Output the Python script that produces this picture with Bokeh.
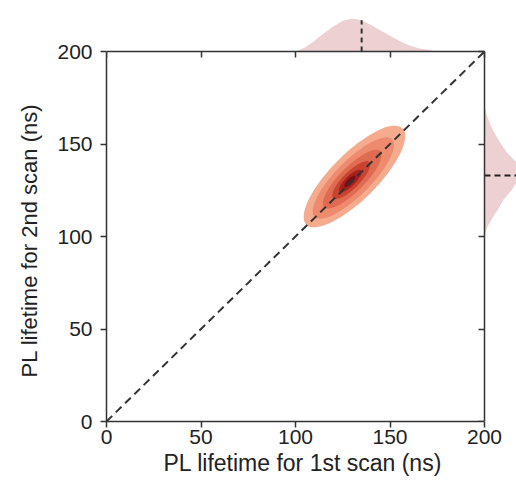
import numpy as np
from bokeh.plotting import figure
from bokeh.models import Range1d, LinearAxis, FixedTicker, Title
from bokeh.embed import file_html
from bokeh.resources import INLINE

# ---------------- data ----------------
ticks = [0, 50, 100, 150, 200]
diag = [0, 200]
x_label = "PL lifetime for 1st scan (ns)"
y_label = "PL lifetime for 2nd scan (ns)"

# 2D density contour levels (outer -> inner), approximated as ellipses along the diagonal
lvl_x = [131.2, 130.6, 130.0, 129.5, 129.0, 128.8]
lvl_y = [132.4, 131.6, 131.0, 130.5, 130.0, 129.8]
lvl_len = [72.0, 58.0, 42.0, 27.0, 16.0, 8.0]
lvl_wid = [25.0, 19.0, 13.5, 9.0, 5.5, 2.8]
lvl_colors = ["#f5ab8e", "#ee8b6e", "#e06b53", "#c9432f", "#a3201f", "#731014"]

# marginal densities (normalised, peak ~ 1)
top_x = [100, 105, 110, 115, 120, 125, 130, 135, 140, 145, 150, 155, 160, 165, 170, 175]
top_d = [0.0, 0.12, 0.32, 0.55, 0.76, 0.93, 1.0, 0.95, 0.80, 0.64, 0.48, 0.32, 0.19, 0.10, 0.05, 0.0]
right_y = [100, 105, 110, 115, 120, 125, 130, 135, 140, 145, 150, 155, 160, 165, 170, 175]
right_d = [0.0, 0.08, 0.24, 0.42, 0.58, 0.82, 1.0, 1.05, 0.98, 0.70, 0.50, 0.33, 0.19, 0.08, 0.01, 0.0]
top_mark = 135
right_mark = 133

# ---------------- layout constants ----------------
LEFT = 106
TOP = 8
FRAME_W = 410
FRAME_H = 413
X_PX = 378 / 200.0      # px per ns, x
Y_PX = 370 / 200.0      # px per ns, y
DENS_PX = 33.0          # px per density unit
TOP_GAP = 43            # px above the y=200 line
RIGHT_GAP = FRAME_W - 378

FONT = "Liberation Sans"
TXT = "#222222"
AX = "#333333"

p = figure(
    frame_width=FRAME_W, frame_height=FRAME_H,
    x_range=Range1d(0, FRAME_W / X_PX), y_range=Range1d(0, FRAME_H / Y_PX),
    output_backend="svg", toolbar_location=None,
    min_border_left=LEFT, min_border_right=0, min_border_top=TOP, min_border_bottom=0,
    background_fill_color="white", border_fill_color="white",
)
p.outline_line_color = None
p.xgrid.visible = False
p.ygrid.visible = False

p.extra_y_ranges = {"ydens": Range1d(-(FRAME_H - TOP_GAP) / DENS_PX, TOP_GAP / DENS_PX)}
p.extra_x_ranges = {"xdens": Range1d(-378 / DENS_PX, RIGHT_GAP / DENS_PX)}

# axes (bottom / left)
for ax in (p.xaxis[0], p.yaxis[0]):
    ax.ticker = FixedTicker(ticks=ticks)
    ax.bounds = (0, 200)
    ax.major_label_text_font = FONT
    ax.major_label_text_font_size = "21px"
    ax.major_label_text_color = TXT
    ax.major_tick_in = 0
    ax.major_tick_out = 6
    ax.minor_tick_line_color = None
    ax.axis_line_color = AX
    ax.axis_line_width = 1.5
    ax.major_tick_line_color = AX
    ax.major_tick_line_width = 1.5
p.xaxis[0].major_label_standoff = 2
p.yaxis[0].major_label_standoff = 8

# axis titles, placed along the 0-200 span of the axes
xt = Title(text=x_label, align="left", offset=57, standoff=2,
           text_font=FONT, text_font_size="23px", text_font_style="normal", text_color=TXT)
yt = Title(text=y_label, align="left", offset=44, standoff=26,
           text_font=FONT, text_font_size="22px", text_font_style="normal", text_color=TXT)
p.add_layout(xt, "below")
p.add_layout(yt, "left")

# top / right axes at 200, ticks pointing inward
top_ax = LinearAxis(fixed_location=200, bounds=(0, 200), ticker=FixedTicker(ticks=ticks))
right_ax = LinearAxis(fixed_location=200, bounds=(0, 200), ticker=FixedTicker(ticks=ticks))
for ax in (top_ax, right_ax):
    ax.major_label_text_font_size = "0px"
    ax.major_label_text_alpha = 0
    ax.major_tick_in = 6
    ax.major_tick_out = 0
    ax.minor_tick_line_color = None
    ax.axis_line_color = AX
    ax.axis_line_width = 1.5
    ax.major_tick_line_color = AX
    ax.major_tick_line_width = 1.5
p.add_layout(top_ax, "above")
p.add_layout(right_ax, "right")

# marginal densities
p.varea(x=top_x, y1=[0] * len(top_x), y2=top_d, y_range_name="ydens",
        fill_color="#ecd0d2", fill_alpha=1.0)
p.harea(y=right_y, x1=[0] * len(right_y), x2=right_d, x_range_name="xdens",
        fill_color="#ecd0d2", fill_alpha=1.0)
p.segment(x0=[top_mark], y0=[0], x1=[top_mark], y1=[float(np.interp(top_mark, top_x, top_d))],
          y_range_name="ydens", line_color=AX, line_width=2, line_dash="5 4")
p.segment(x0=[0], y0=[right_mark], x1=[float(np.interp(right_mark, right_y, right_d))], y1=[right_mark],
          x_range_name="xdens", line_color="#222222", line_width=2, line_dash="6 4")

# 2D density contours
p.ellipse(x=lvl_x, y=lvl_y, width=lvl_len, height=lvl_wid, angle=np.pi / 4,
          fill_color=lvl_colors, line_color=None)

# identity line
p.line(x=diag, y=diag, line_color=AX, line_width=2, line_dash="8 5")

open("out.html", "w").write(file_html(p, INLINE))
